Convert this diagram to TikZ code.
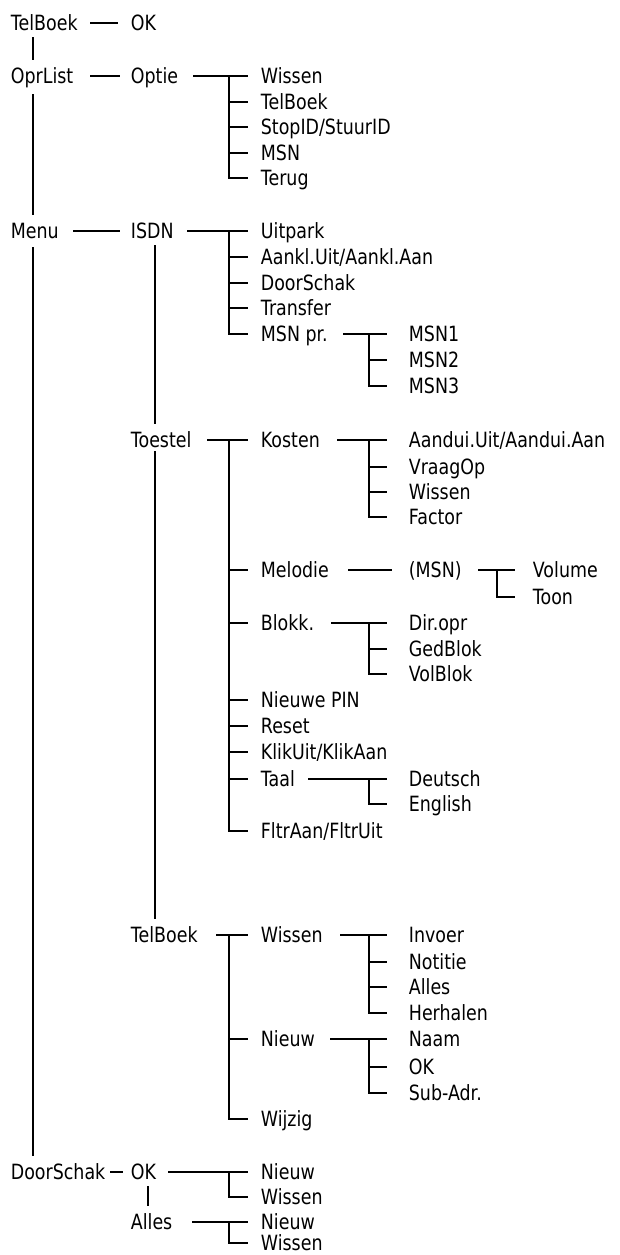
\documentclass[tikz,border=0pt]{standalone}
\usepackage{fontspec}
\setmainfont{DejaVu Sans}[FakeStretch=0.83]
\begin{document}
\begin{tikzpicture}[x=1pt,y=-1pt,line width=1.8pt,
  lbl/.style={anchor=west,inner sep=0pt,text height=15pt,text depth=0pt,
    font=\fontsize{21}{25}\selectfont}]
\useasboundingbox[fill=white] (0,0) rectangle (620,1255);
% level 0
\node[lbl] (tb0) at (10,23) {TelBoek};
\node[lbl] (opr) at (10,76) {OprList};
\node[lbl] (menu) at (10,231) {Menu};
\node[lbl] (ds) at (10,1172) {DoorSchak};
% level 1
\node[lbl] (ok0) at (130,23) {OK};
\node[lbl] (optie) at (130,76) {Optie};
\node[lbl] (isdn) at (130,231) {ISDN};
\node[lbl] (toe) at (130,440) {Toestel};
\node[lbl] (tb1) at (130,935) {TelBoek};
\node[lbl] (okd) at (130,1172) {OK};
\node[lbl] (all) at (130,1222) {Alles};
% optie children
\node[lbl] (o1) at (260,76) {Wissen};
\node[lbl] (o2) at (260,102) {TelBoek};
\node[lbl] (o3) at (260,127) {StopID/StuurID};
\node[lbl] (o4) at (260,153) {MSN};
\node[lbl] (o5) at (260,178) {Terug};
% isdn children
\node[lbl] (i1) at (260,231) {Uitpark};
\node[lbl] (i2) at (260,257) {Aankl.Uit/Aankl.Aan};
\node[lbl] (i3) at (260,283) {DoorSchak};
\node[lbl] (i4) at (260,308) {Transfer};
\node[lbl] (i5) at (260,334) {MSN pr.};
\node[lbl] (m1) at (408,334) {MSN1};
\node[lbl] (m2) at (408,360) {MSN2};
\node[lbl] (m3) at (408,386) {MSN3};
% toestel children
\node[lbl] (t1) at (260,440) {Kosten};
\node[lbl] (t2) at (260,570) {Melodie};
\node[lbl] (t3) at (260,623) {Blokk.};
\node[lbl] (t4) at (260,700) {Nieuwe PIN};
\node[lbl] (t5) at (260,726) {Reset};
\node[lbl] (t6) at (260,752) {KlikUit/KlikAan};
\node[lbl] (t7) at (260,779) {Taal};
\node[lbl] (t8) at (260,831) {FltrAan/FltrUit};
\node[lbl] (k1) at (408,440) {Aandui.Uit/Aandui.Aan};
\node[lbl] (k2) at (408,467) {VraagOp};
\node[lbl] (k3) at (408,492) {Wissen};
\node[lbl] (k4) at (408,517) {Factor};
\node[lbl] (msn) at (408,570) {(MSN)};
\node[lbl] (v1) at (532,570) {Volume};
\node[lbl] (v2) at (532,597) {Toon};
\node[lbl] (b1) at (408,623) {Dir.opr};
\node[lbl] (b2) at (408,649) {GedBlok};
\node[lbl] (b3) at (408,674) {VolBlok};
\node[lbl] (l1) at (408,779) {Deutsch};
\node[lbl] (l2) at (408,804) {English};
% telboek children
\node[lbl] (p1) at (260,935) {Wissen};
\node[lbl] (p2) at (260,1039) {Nieuw};
\node[lbl] (p3) at (260,1119) {Wijzig};
\node[lbl] (w1) at (408,935) {Invoer};
\node[lbl] (w2) at (408,962) {Notitie};
\node[lbl] (w3) at (408,987) {Alles};
\node[lbl] (w4) at (408,1013) {Herhalen};
\node[lbl] (n1) at (408,1039) {Naam};
\node[lbl] (n2) at (408,1067) {OK};
\node[lbl] (n3) at (408,1093) {Sub-Adr.};
% doorschak children
\node[lbl] (d1) at (260,1172) {Nieuw};
\node[lbl] (d2) at (260,1197) {Wissen};
\node[lbl] (a1) at (260,1222) {Nieuw};
\node[lbl] (a2) at (260,1243) {Wissen};

% spines
\draw ([yshift=-6pt]33,0 |- tb0.south) -- ([yshift=8pt]33,0 |- opr.north);
\draw ([yshift=-10pt]33,0 |- opr.south) -- ([yshift=8pt]33,0 |- menu.north);
\draw ([yshift=-8pt]33,0 |- menu.south) -- ([yshift=8pt]33,0 |- ds.north);
\draw ([yshift=-6pt]155,0 |- isdn.south) -- ([yshift=8pt]155,0 |- toe.north);
\draw ([yshift=-3pt]155,0 |- toe.south) -- ([yshift=8pt]155,0 |- tb1.north);
\draw ([yshift=-6pt]148,0 |- okd.south) -- ([yshift=8pt]148,0 |- all.north);

% single connectors
\draw (90,0 |- tb0) -- (118,0 |- ok0);
\draw (90,0 |- opr) -- (120,0 |- optie);
\draw (73,0 |- menu) -- (120,0 |- isdn);
\draw (110,0 |- ds) -- (123,0 |- okd);
\draw (348,0 |- t2) -- (392,0 |- msn);

% brackets level 2 (bracket x 229, tick end 248)
\draw (193,0 |- optie) -- (248,0 |- o1);
\draw (229,0 |- o1) |- (248,0 |- o5);
\foreach \n in {o2,o3,o4} \draw (229,0 |- \n) -- (248,0 |- \n);

\draw (187,0 |- isdn) -- (248,0 |- i1);
\draw (229,0 |- i1) |- (248,0 |- i5);
\foreach \n in {i2,i3,i4} \draw (229,0 |- \n) -- (248,0 |- \n);

\draw (207,0 |- toe) -- (248,0 |- t1);
\draw (229,0 |- t1) |- (248,0 |- t8);
\foreach \n in {t2,t3,t4,t5,t6,t7} \draw (229,0 |- \n) -- (248,0 |- \n);

\draw (216,0 |- tb1) -- (248,0 |- p1);
\draw (229,0 |- p1) |- (248,0 |- p3);
\draw (229,0 |- p2) -- (248,0 |- p2);

\draw (168,0 |- okd) -- (248,0 |- d1);
\draw (229,0 |- d1) |- (248,0 |- d2);

\draw (192,0 |- all) -- (248,0 |- a1);
\draw (229,0 |- a1) |- (248,0 |- a2);

% brackets level 3 (bracket x 369, tick end 387)
\draw (343,0 |- i5) -- (387,0 |- m1);
\draw (369,0 |- m1) |- (387,0 |- m3);
\draw (369,0 |- m2) -- (387,0 |- m2);

\draw (337,0 |- t1) -- (387,0 |- k1);
\draw (369,0 |- k1) |- (387,0 |- k4);
\foreach \n in {k2,k3} \draw (369,0 |- \n) -- (387,0 |- \n);

\draw (331,0 |- t3) -- (387,0 |- b1);
\draw (369,0 |- b1) |- (387,0 |- b3);
\draw (369,0 |- b2) -- (387,0 |- b2);

\draw (308,0 |- t7) -- (387,0 |- l1);
\draw (369,0 |- l1) |- (387,0 |- l2);

\draw (340,0 |- p1) -- (387,0 |- w1);
\draw (369,0 |- w1) |- (387,0 |- w4);
\foreach \n in {w2,w3} \draw (369,0 |- \n) -- (387,0 |- \n);

\draw (330,0 |- p2) -- (387,0 |- n1);
\draw (369,0 |- n1) |- (387,0 |- n3);
\draw (369,0 |- n2) -- (387,0 |- n2);

% level 4
\draw (478,0 |- msn) -- (515,0 |- v1);
\draw (497,0 |- v1) |- (515,0 |- v2);
\end{tikzpicture}
\end{document}
